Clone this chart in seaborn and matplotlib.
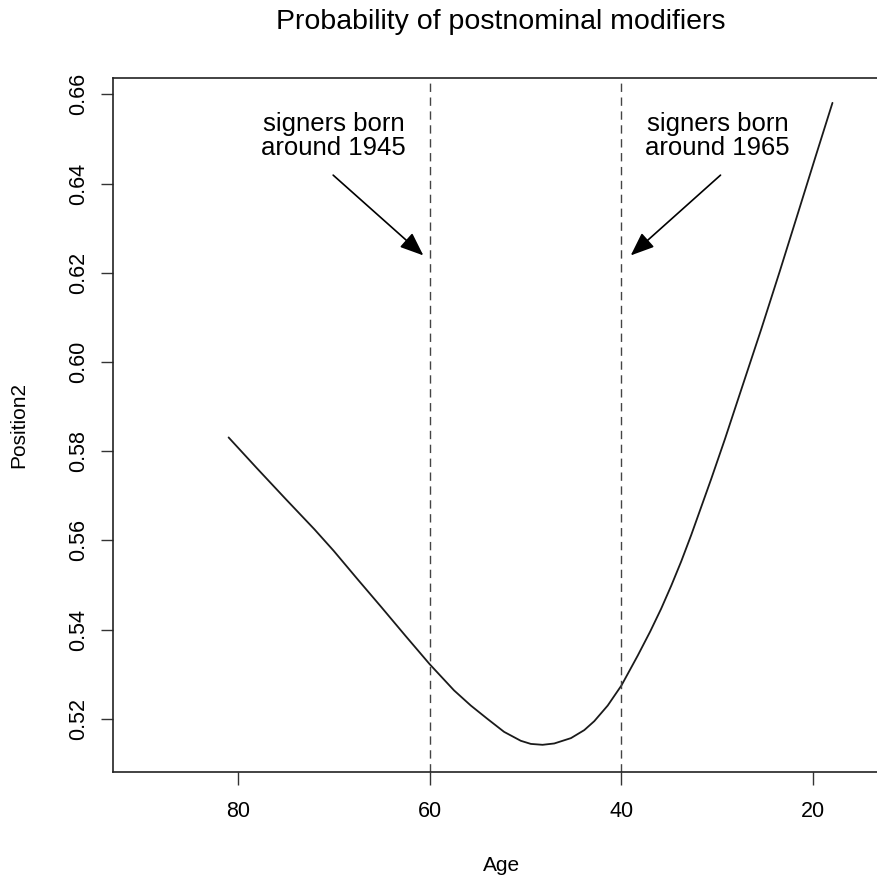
import matplotlib
matplotlib.use("Agg")
import matplotlib.pyplot as plt
import pandas as pd
import seaborn as sns

# values (age, predicted probability)
age = [80.95, 78.0, 75.0, 72.0, 70.0, 67.5, 65.0, 62.5, 60.0, 57.45, 55.7,
       53.96, 52.23, 50.49, 49.44, 48.22, 47.0, 45.26, 43.87, 42.83, 41.43,
       40.0, 38.3, 37.0, 35.86, 34.8, 33.77, 32.73, 30.64, 29.2, 27.85,
       25.42, 23.5, 21.58, 19.8, 18.0]
position2 = [0.5831, 0.5762, 0.5693, 0.5625, 0.5577, 0.5513, 0.5450, 0.5386,
             0.5323, 0.5264, 0.5230, 0.5200, 0.5171, 0.5151, 0.5144, 0.5142,
             0.5145, 0.5157, 0.5175, 0.5195, 0.5230, 0.5275, 0.5342, 0.5396,
             0.5447, 0.5499, 0.5553, 0.5612, 0.5738, 0.5828, 0.5916, 0.6074,
             0.6203, 0.6335, 0.6458, 0.6581]

cohort_ages = [60, 40]
cohort_labels = ["signers born\naround 1945", "signers born\naround 1965"]
label_x = [70, 30]
label_y = 0.6507
arrow_from = [(70.05, 0.6419), (29.67, 0.6419)]
arrow_to = [(60.65, 0.6239), (39.03, 0.6239)]

yticks = [0.52, 0.54, 0.56, 0.58, 0.60, 0.62, 0.64, 0.66]
xticks = [80, 60, 40, 20]

df = pd.DataFrame({"Age": age, "Position2": position2})

sns.set_style("ticks")
plt.rcParams["font.family"] = ["Liberation Sans", "DejaVu Sans"]
plt.rcParams["text.color"] = "black"
plt.rcParams["axes.labelcolor"] = "black"
plt.rcParams["xtick.labelcolor"] = "black"
plt.rcParams["ytick.labelcolor"] = "black"

fig = plt.figure(figsize=(8.78, 8.81), dpi=100)
ax = fig.add_axes([0.1287, 0.1237, 0.885, 0.7874])

sns.lineplot(data=df, x="Age", y="Position2", color="#1a1a1a", linewidth=1.3, ax=ax)

for a in cohort_ages:
    ax.axvline(a, color="#444444", linewidth=1.0, linestyle=(0, (6, 4)))

for txt, lx in zip(cohort_labels, label_x):
    ax.text(lx, label_y, txt, ha="center", va="center", fontsize=18.5,
            linespacing=1.0)

for (x0, y0), (x1, y1) in zip(arrow_from, arrow_to):
    ax.annotate("", xy=(x1, y1), xytext=(x0, y0),
                arrowprops=dict(arrowstyle="-|>,head_length=0.8,head_width=0.32",
                                mutation_scale=18, lw=1.2, color="black",
                                shrinkA=0, shrinkB=0))

ax.set_xlim(93, 12)
ax.set_ylim(0.5081, 0.6636)
ax.set_xticks(xticks)
ax.set_yticks(yticks)
ax.set_yticklabels([f"{v:.2f}" for v in yticks], rotation=90, va="center")
ax.tick_params(axis="both", labelsize=15.5, length=9, width=1.0, color="#333333",
               pad=8)
ax.tick_params(axis="x", pad=12)
for s in ax.spines.values():
    s.set_color("#222222")
    s.set_linewidth(1.2)

ax.set_xlabel("Age", fontsize=15, labelpad=24)
ax.set_ylabel("Position2", fontsize=15, labelpad=29)
fig.text(0.57, 0.975, "Probability of postnominal modifiers", ha="center",
         va="center", fontsize=20.5)

fig.savefig("out.png", dpi=100)
